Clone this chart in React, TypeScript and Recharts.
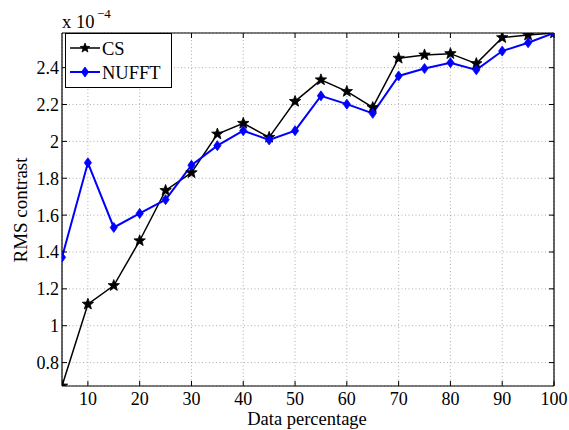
import { LineChart, Line, XAxis, YAxis, CartesianGrid } from 'recharts';

const percent = [5, 10, 15, 20, 25, 30, 35, 40, 45, 50, 55, 60, 65, 70, 75, 80, 85, 90, 95, 100];
const csValues = [0.673, 1.117, 1.218, 1.461, 1.734, 1.83, 2.04, 2.098, 2.022, 2.217, 2.334, 2.271, 2.184, 2.451, 2.469, 2.476, 2.422, 2.563, 2.577, 2.588];
const nufftValues = [1.371, 1.884, 1.533, 1.609, 1.684, 1.871, 1.977, 2.058, 2.008, 2.058, 2.247, 2.202, 2.152, 2.355, 2.395, 2.427, 2.388, 2.49, 2.535, 2.588];
const xTicks = [10, 20, 30, 40, 50, 60, 70, 80, 90, 100];
const yTicks = [0.8, 1, 1.2, 1.4, 1.6, 1.8, 2, 2.2, 2.4];

const data = percent.map((p, i) => ({ p, cs: csValues[i], nufft: nufftValues[i] }));

const FONT = 'Liberation Serif, Times New Roman, serif';
const BLUE = '#0000ff';

const starPoints = (cx: number, cy: number, R: number, r: number) => {
  const pts: string[] = [];
  for (let k = 0; k < 10; k++) {
    const a = -Math.PI / 2 + (k * Math.PI) / 5;
    const rad = k % 2 === 0 ? R : r;
    pts.push(`${cx + rad * Math.cos(a)},${cy + rad * Math.sin(a)}`);
  }
  return pts.join(' ');
};

const Star = ({ cx, cy, R = 6 }: { cx: number; cy: number; R?: number }) => (
  <polygon points={starPoints(cx, cy, R, R * 0.42)} fill="#000" stroke="#000" strokeWidth={0.8} />
);

const Diamond = ({ cx, cy }: { cx: number; cy: number }) => (
  <polygon
    points={`${cx},${cy - 5} ${cx + 3.6},${cy} ${cx},${cy + 5} ${cx - 3.6},${cy}`}
    fill={BLUE}
    stroke={BLUE}
    strokeWidth={0.8}
  />
);

const blank = () => '';
const tickStyle = { fill: '#000', fontSize: 18, fontFamily: FONT };

export default function App() {
  return (
    <div style={{ position: 'relative', width: 569, height: 430, background: '#fff', fontFamily: FONT }}>
      <style>{'body{margin:0}'}</style>
      <LineChart
        width={569}
        height={430}
        data={data}
        margin={{ top: 33, right: 15, bottom: 14, left: 12 }}
        style={{ fontFamily: FONT }}
      >
        <CartesianGrid stroke="#999" strokeDasharray="1 2.5" strokeWidth={0.8} />
        <XAxis
          dataKey="p"
          type="number"
          domain={[5, 100]}
          ticks={xTicks}
          allowDataOverflow
          height={30}
          tickSize={0}
          tickMargin={6}
          tickLine={false}
          axisLine={{ stroke: '#000', strokeWidth: 1.2 }}
          tick={tickStyle}
        />
        <XAxis
          xAxisId="bt"
          dataKey="p"
          type="number"
          domain={[5, 100]}
          ticks={xTicks}
          allowDataOverflow
          mirror
          tickSize={5}
          axisLine={false}
          tickLine={{ stroke: '#000' }}
          tickFormatter={blank}
        />
        <XAxis
          xAxisId="top"
          orientation="top"
          dataKey="p"
          type="number"
          domain={[5, 100]}
          ticks={xTicks}
          allowDataOverflow
          mirror
          tickSize={5}
          axisLine={{ stroke: '#000', strokeWidth: 1.2 }}
          tickLine={{ stroke: '#000' }}
          tickFormatter={blank}
        />
        <YAxis
          type="number"
          domain={[0.673, 2.588]}
          ticks={yTicks}
          allowDataOverflow
          width={50}
          tickSize={0}
          tickMargin={3}
          tickLine={false}
          axisLine={{ stroke: '#000', strokeWidth: 1.2 }}
          tick={tickStyle}
        />
        <YAxis
          yAxisId="lt"
          type="number"
          domain={[0.673, 2.588]}
          ticks={yTicks}
          allowDataOverflow
          mirror
          tickSize={5}
          axisLine={false}
          tickLine={{ stroke: '#000' }}
          tickFormatter={blank}
        />
        <YAxis
          yAxisId="right"
          orientation="right"
          type="number"
          domain={[0.673, 2.588]}
          ticks={yTicks}
          allowDataOverflow
          mirror
          tickSize={5}
          axisLine={{ stroke: '#000', strokeWidth: 1.2 }}
          tickLine={{ stroke: '#000' }}
          tickFormatter={blank}
        />
        <Line
          dataKey="cs"
          stroke="#000"
          strokeWidth={1.5}
          isAnimationActive={false}
          dot={(p: any) => <Star key={`cs-${p.index}`} cx={p.cx} cy={p.cy} />}
        />
        <Line
          dataKey="nufft"
          stroke={BLUE}
          strokeWidth={2}
          isAnimationActive={false}
          dot={(p: any) => <Diamond key={`nu-${p.index}`} cx={p.cx} cy={p.cy} />}
        />
      </LineChart>
      <svg
        width={569}
        height={430}
        style={{ position: 'absolute', left: 0, top: 0, pointerEvents: 'none', fontFamily: FONT }}
      >
        <text x={62} y={28} fontSize={18.5} fill="#000">x 10</text>
        <text x={97} y={18} fontSize={13} fill="#000">−4</text>
        <text x={307} y={425} fontSize={18.5} fill="#000" textAnchor="middle">Data percentage</text>
        <text x={27} y={210} fontSize={19} fill="#000" textAnchor="middle" transform="rotate(-90 27 210)">
          RMS contrast
        </text>
        <rect x={65.5} y={33.5} width={106} height={54} fill="#fff" stroke="#000" strokeWidth={1} />
        <line x1={70} y1={48} x2={100} y2={48} stroke="#000" strokeWidth={1.5} />
        <Star cx={85} cy={48} R={5} />
        <text x={102} y={54.5} fontSize={18.5} fill="#000">CS</text>
        <line x1={70} y1={72} x2={100} y2={72} stroke={BLUE} strokeWidth={2} />
        <Diamond cx={85} cy={72} />
        <text x={102} y={78.5} fontSize={18.5} fill="#000">NUFFT</text>
      </svg>
    </div>
  );
}
